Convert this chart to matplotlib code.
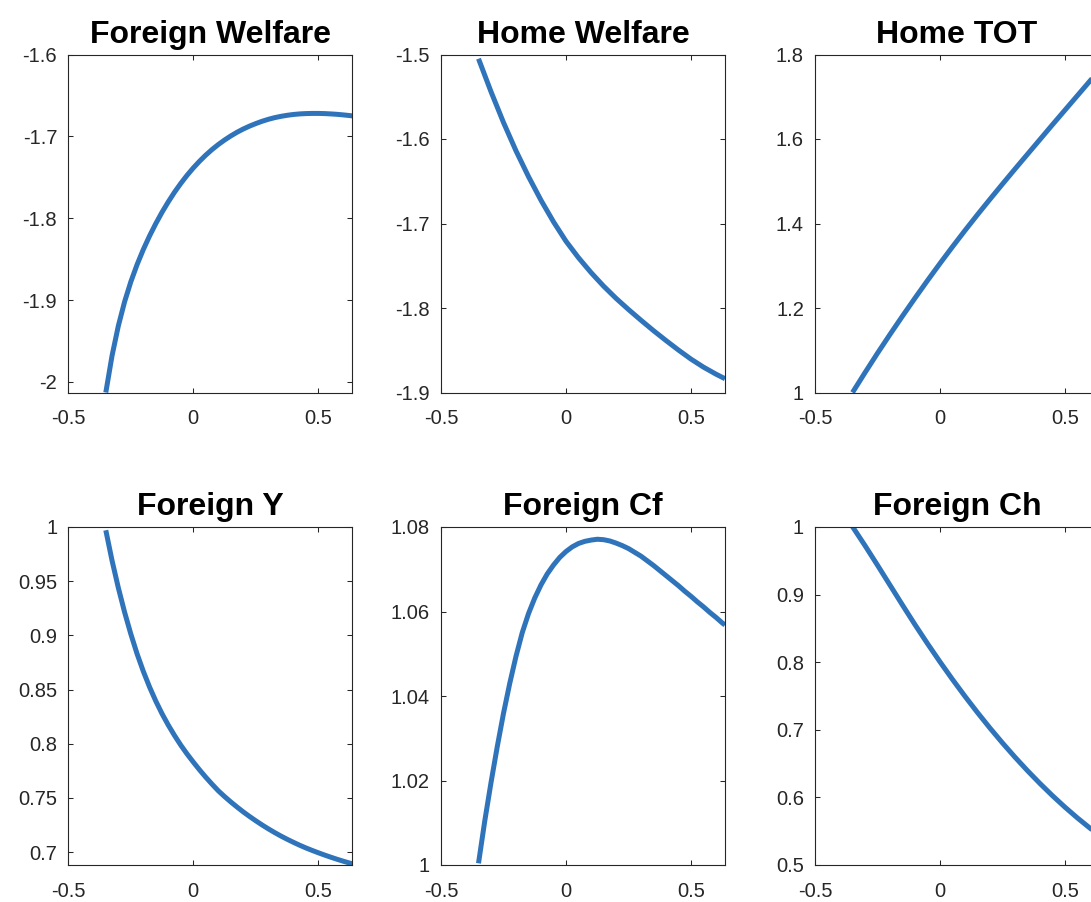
import matplotlib
matplotlib.use("Agg")
import matplotlib.pyplot as plt

plt.rcParams['font.family'] = ['Liberation Sans', 'DejaVu Sans']

# parameter grids on the horizontal axis (finer where the curves bend sharply)
x_fine = [-0.35, -0.325, -0.30, -0.275, -0.25, -0.225, -0.20, -0.175, -0.15, -0.125,
          -0.10, -0.075, -0.05, -0.025, 0.0, 0.025, 0.05, 0.075, 0.10, 0.125,
          0.15, 0.175, 0.20, 0.225, 0.25, 0.275, 0.30, 0.325, 0.35, 0.375,
          0.40, 0.425, 0.45, 0.475, 0.50, 0.525, 0.55, 0.575, 0.60, 0.625, 0.636]
x_coarse = [-0.35, -0.30, -0.25, -0.20, -0.15, -0.10, -0.05, 0.00, 0.05, 0.10, 0.15,
            0.20, 0.25, 0.30, 0.35, 0.40, 0.45, 0.50, 0.55, 0.60, 0.636]

foreign_welfare = [-2.013, -1.968, -1.9318, -1.9023, -1.8778, -1.8568, -1.8383, -1.8217,
                   -1.8066, -1.7927, -1.7800, -1.7682, -1.7575, -1.7476, -1.7386, -1.7304,
                   -1.7229, -1.7161, -1.7100, -1.7045, -1.6995, -1.6950, -1.6910, -1.6875,
                   -1.6844, -1.6816, -1.6792, -1.6772, -1.6756, -1.6743, -1.6733, -1.6726,
                   -1.6722, -1.6720, -1.6720, -1.6722, -1.6726, -1.6731, -1.6738, -1.6746,
                   -1.6750]
home_welfare = [-1.505, -1.544, -1.5805, -1.614, -1.6445, -1.6725, -1.698, -1.721,
                -1.7405, -1.758, -1.774, -1.7885, -1.8018, -1.8145, -1.8268, -1.8385,
                -1.8498, -1.8605, -1.870, -1.8783, -1.8837]
home_tot = [1.000, 1.047, 1.093, 1.1375, 1.181, 1.2235, 1.265, 1.3055, 1.345, 1.3835,
            1.421, 1.4575, 1.4935, 1.529, 1.564, 1.599, 1.634, 1.6685, 1.703, 1.7375,
            1.7623]
foreign_y = [0.997, 0.969, 0.944, 0.9215, 0.9013, 0.8830, 0.8668, 0.8523, 0.8393, 0.8276,
             0.8171, 0.8075, 0.7986, 0.7905, 0.7830, 0.7758, 0.7690, 0.7626, 0.7565, 0.7512,
             0.7462, 0.7415, 0.7370, 0.7328, 0.7288, 0.7250, 0.7214, 0.7180, 0.7148, 0.7118,
             0.7090, 0.7063, 0.7038, 0.7015, 0.6993, 0.6972, 0.6952, 0.6933, 0.6915, 0.6898,
             0.6891]
foreign_cf = [1.0004, 1.0104, 1.0195, 1.0280, 1.0359, 1.0430, 1.0494, 1.0550, 1.0595, 1.0632,
              1.0663, 1.0689, 1.0710, 1.0728, 1.0742, 1.0753, 1.0761, 1.0766, 1.0769, 1.0771,
              1.0770, 1.0767, 1.0762, 1.0756, 1.0749, 1.0740, 1.0731, 1.0720, 1.0709, 1.0697,
              1.0685, 1.0673, 1.0661, 1.0648, 1.0636, 1.0623, 1.0611, 1.0598, 1.0586, 1.0573,
              1.0568]
foreign_ch = [1.0005, 0.9725, 0.9435, 0.914, 0.8845, 0.8555, 0.8275, 0.8005, 0.7745, 0.7495,
              0.7255, 0.7025, 0.6805, 0.6595, 0.6395, 0.6205, 0.6025, 0.5855, 0.5695, 0.5545,
              0.5441]

titles = ["Foreign Welfare", "Home Welfare", "Home TOT",
          "Foreign Y", "Foreign Cf", "Foreign Ch"]
xs = [x_fine, x_coarse, x_coarse, x_fine, x_fine, x_coarse]
series = [foreign_welfare, home_welfare, home_tot,
          foreign_y, foreign_cf, foreign_ch]
ylims = [(-2.013, -1.6), (-1.9, -1.5), (1.0, 1.8),
         (0.688, 1.0), (1.0, 1.08), (0.5, 1.0)]
yticks = [[-2, -1.9, -1.8, -1.7, -1.6],
          [-1.9, -1.8, -1.7, -1.6, -1.5],
          [1, 1.2, 1.4, 1.6, 1.8],
          [0.7, 0.75, 0.8, 0.85, 0.9, 0.95, 1],
          [1, 1.02, 1.04, 1.06, 1.08],
          [0.5, 0.6, 0.7, 0.8, 0.9, 1]]
ytick_labels = [["-2", "-1.9", "-1.8", "-1.7", "-1.6"],
                ["-1.9", "-1.8", "-1.7", "-1.6", "-1.5"],
                ["1", "1.2", "1.4", "1.6", "1.8"],
                ["0.7", "0.75", "0.8", "0.85", "0.9", "0.95", "1"],
                ["1", "1.02", "1.04", "1.06", "1.08"],
                ["0.5", "0.6", "0.7", "0.8", "0.9", "1"]]
xticks = [-0.5, 0, 0.5]
xtick_labels = ["-0.5", "0", "0.5"]

W, H = 1091, 902
fig = plt.figure(figsize=(W / 100, H / 100), dpi=100)

lefts = [68.3, 441, 815]
tops = [54.5, 527]
aw, ah = 284, 338
dark = '#262626'

for i in range(6):
    r, c = divmod(i, 3)
    ax = fig.add_axes([lefts[c] / W, (H - tops[r] - ah) / H, aw / W, ah / H])
    ax.plot(xs[i], series[i], color='#2f74ba', lw=3.6, solid_capstyle='butt')
    ax.set_xlim(-0.5, 0.636)
    ax.set_ylim(*ylims[i])
    ax.set_xticks(xticks)
    ax.set_xticklabels(xtick_labels)
    ax.set_yticks(yticks[i])
    ax.set_yticklabels(ytick_labels[i])
    ax.tick_params(direction='in', length=3.5, width=0.75, color=dark,
                   labelcolor=dark, labelsize=14.5, top=True, right=True)
    ax.tick_params(axis='x', pad=12)
    ax.tick_params(axis='y', pad=8)
    for s in ax.spines.values():
        s.set_color(dark)
        s.set_linewidth(0.8)
    ax.set_title(titles[i], fontsize=23, fontweight='bold', pad=8.5)

fig.savefig("out.png", dpi=100)
